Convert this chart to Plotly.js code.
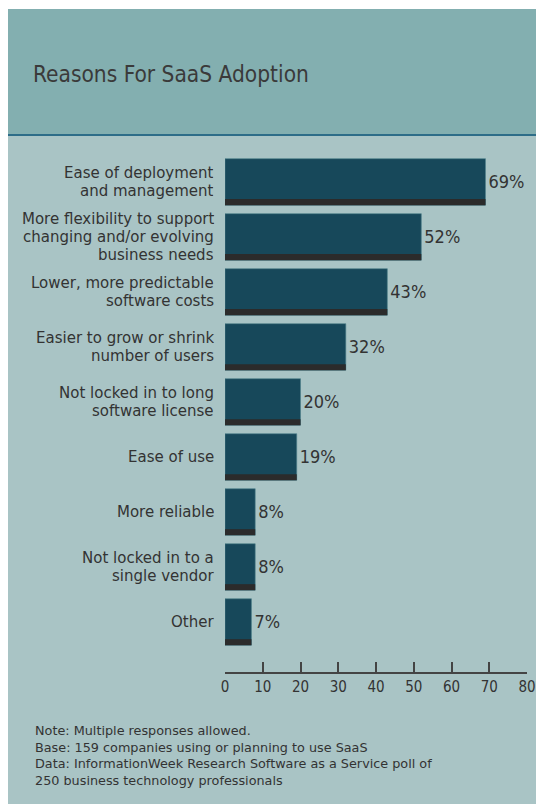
<!DOCTYPE html>
<html>
<head>
<meta charset="utf-8">
<script src="https://cdn.plot.ly/plotly-3.0.1.min.js"></script>
<style>
  html, body { margin: 0; padding: 0; background: #ffffff; }
  #chart { position: absolute; left: 8px; top: 9px; width: 528px; height: 795px; }
</style>
</head>
<body>
<div id="chart"></div>
<script>
const categories = [
  "Ease of deployment<br>and management",
  "More flexibility to support<br>changing and/or evolving<br>business needs",
  "Lower, more predictable<br>software costs",
  "Easier to grow or shrink<br>number of users",
  "Not locked in to long<br>software license",
  "Ease of use",
  "More reliable",
  "Not locked in to a<br>single vendor",
  "Other"
];
const values = [69, 52, 43, 32, 20, 19, 8, 8, 7];
const valueLabels = ["69%", "52%", "43%", "32%", "20%", "19%", "8%", "8%", "7%"];
const xTicks = [0, 10, 20, 30, 40, 50, 60, 70, 80];

const positions = categories.map((_, i) => i);
const textColor = "#333333";
const condFont = "'DejaVu Sans Condensed', 'DejaVu Sans', sans-serif";
const plainFont = "'DejaVu Sans', sans-serif";

const mainBars = {
  type: "bar",
  orientation: "h",
  x: values,
  y: positions,
  width: 0.845,
  marker: { color: "#17485A", line: { color: "#4E7F8A", width: 0.6 } },
  text: valueLabels,
  textposition: "outside",
  cliponaxis: false,
  textfont: { family: condFont, size: 18, color: textColor },
  hoverinfo: "skip"
};

const stripBars = {
  type: "bar",
  orientation: "h",
  x: values,
  y: positions,
  width: 0.11,
  offset: 0.845 / 2 - 0.11,
  marker: { color: "#2B2B2B", line: { width: 0 } },
  hoverinfo: "skip"
};

// pixel helpers within the 795px high div: plot top at 141, bottom at 663
const plotTop = 141, plotBot = 663, plotH = plotBot - plotTop;
const py = p => (plotBot - p) / plotH;
const plotL = 217, plotR = 519, plotW = plotR - plotL;
const px = p => (p - plotL) / plotW;

// category labels: one annotation per text line, tight leading
const lineGap = 17.6;
const labelAnnotations = [];
categories.forEach((cat, i) => {
  const lines = cat.split("<br>");
  const n = lines.length;
  lines.forEach((ln, k) => {
    labelAnnotations.push({
      xref: "paper", yref: "y", x: 0, y: positions[i],
      xanchor: "right", yanchor: "middle", xshift: -10,
      yshift: ((n - 1) / 2 - k) * lineGap,
      height: 16, borderpad: 0, valign: "middle",
      showarrow: false, text: ln,
      font: { family: plainFont, size: 15, color: textColor }
    });
  });
});

const layout = {
  width: 528,
  height: 795,
  margin: { l: plotL, r: 528 - plotR, t: plotTop, b: 795 - plotBot, pad: 0 },
  paper_bgcolor: "#A9C4C5",
  plot_bgcolor: "rgba(0,0,0,0)",
  barmode: "overlay",
  showlegend: false,
  title: {
    text: "Reasons For SaaS Adoption",
    font: { family: condFont, size: 22.5, color: "#3A3A3A" },
    xref: "container", yref: "container",
    x: 25 / 528, xanchor: "left",
    y: 1 - 65 / 795, yanchor: "middle"
  },
  xaxis: {
    range: [0, 80],
    tickvals: xTicks,
    ticktext: xTicks.map(String),
    ticks: "inside",
    ticklen: 10,
    tickwidth: 2,
    tickcolor: "#444444",
    showline: true,
    linecolor: "#444444",
    linewidth: 2,
    showgrid: false,
    zeroline: false,
    tickfont: { family: condFont, size: 15, color: textColor },
    fixedrange: true
  },
  yaxis: {
    range: [8 + 50 / 55, -0.58],
    tickvals: positions,
    showticklabels: false,
    ticks: "",
    showline: false,
    showgrid: false,
    zeroline: false,
    fixedrange: true
  },
  shapes: [
    { type: "rect", xref: "paper", yref: "paper", layer: "below",
      x0: px(0), x1: px(528), y0: py(126), y1: py(-5),
      fillcolor: "#83AFB0", line: { width: 0 } },
    { type: "line", xref: "paper", yref: "paper",
      x0: px(0), x1: px(528), y0: py(126), y1: py(126),
      line: { color: "#2D6D88", width: 2 } }
  ],
  annotations: labelAnnotations.concat([
    { xref: "paper", yref: "paper", x: px(25), y: py(712),
      xanchor: "left", yanchor: "top", align: "left", showarrow: false,
      text: "Note: Multiple responses allowed.<br>Base: 159 companies using or planning to use SaaS<br>Data: InformationWeek Research Software as a Service poll of<br>250 business technology professionals",
      font: { family: plainFont, size: 12.8, color: textColor } }
  ])
};

Plotly.newPlot("chart", [mainBars, stripBars], layout, { displayModeBar: false, staticPlot: true });
</script>
</body>
</html>
